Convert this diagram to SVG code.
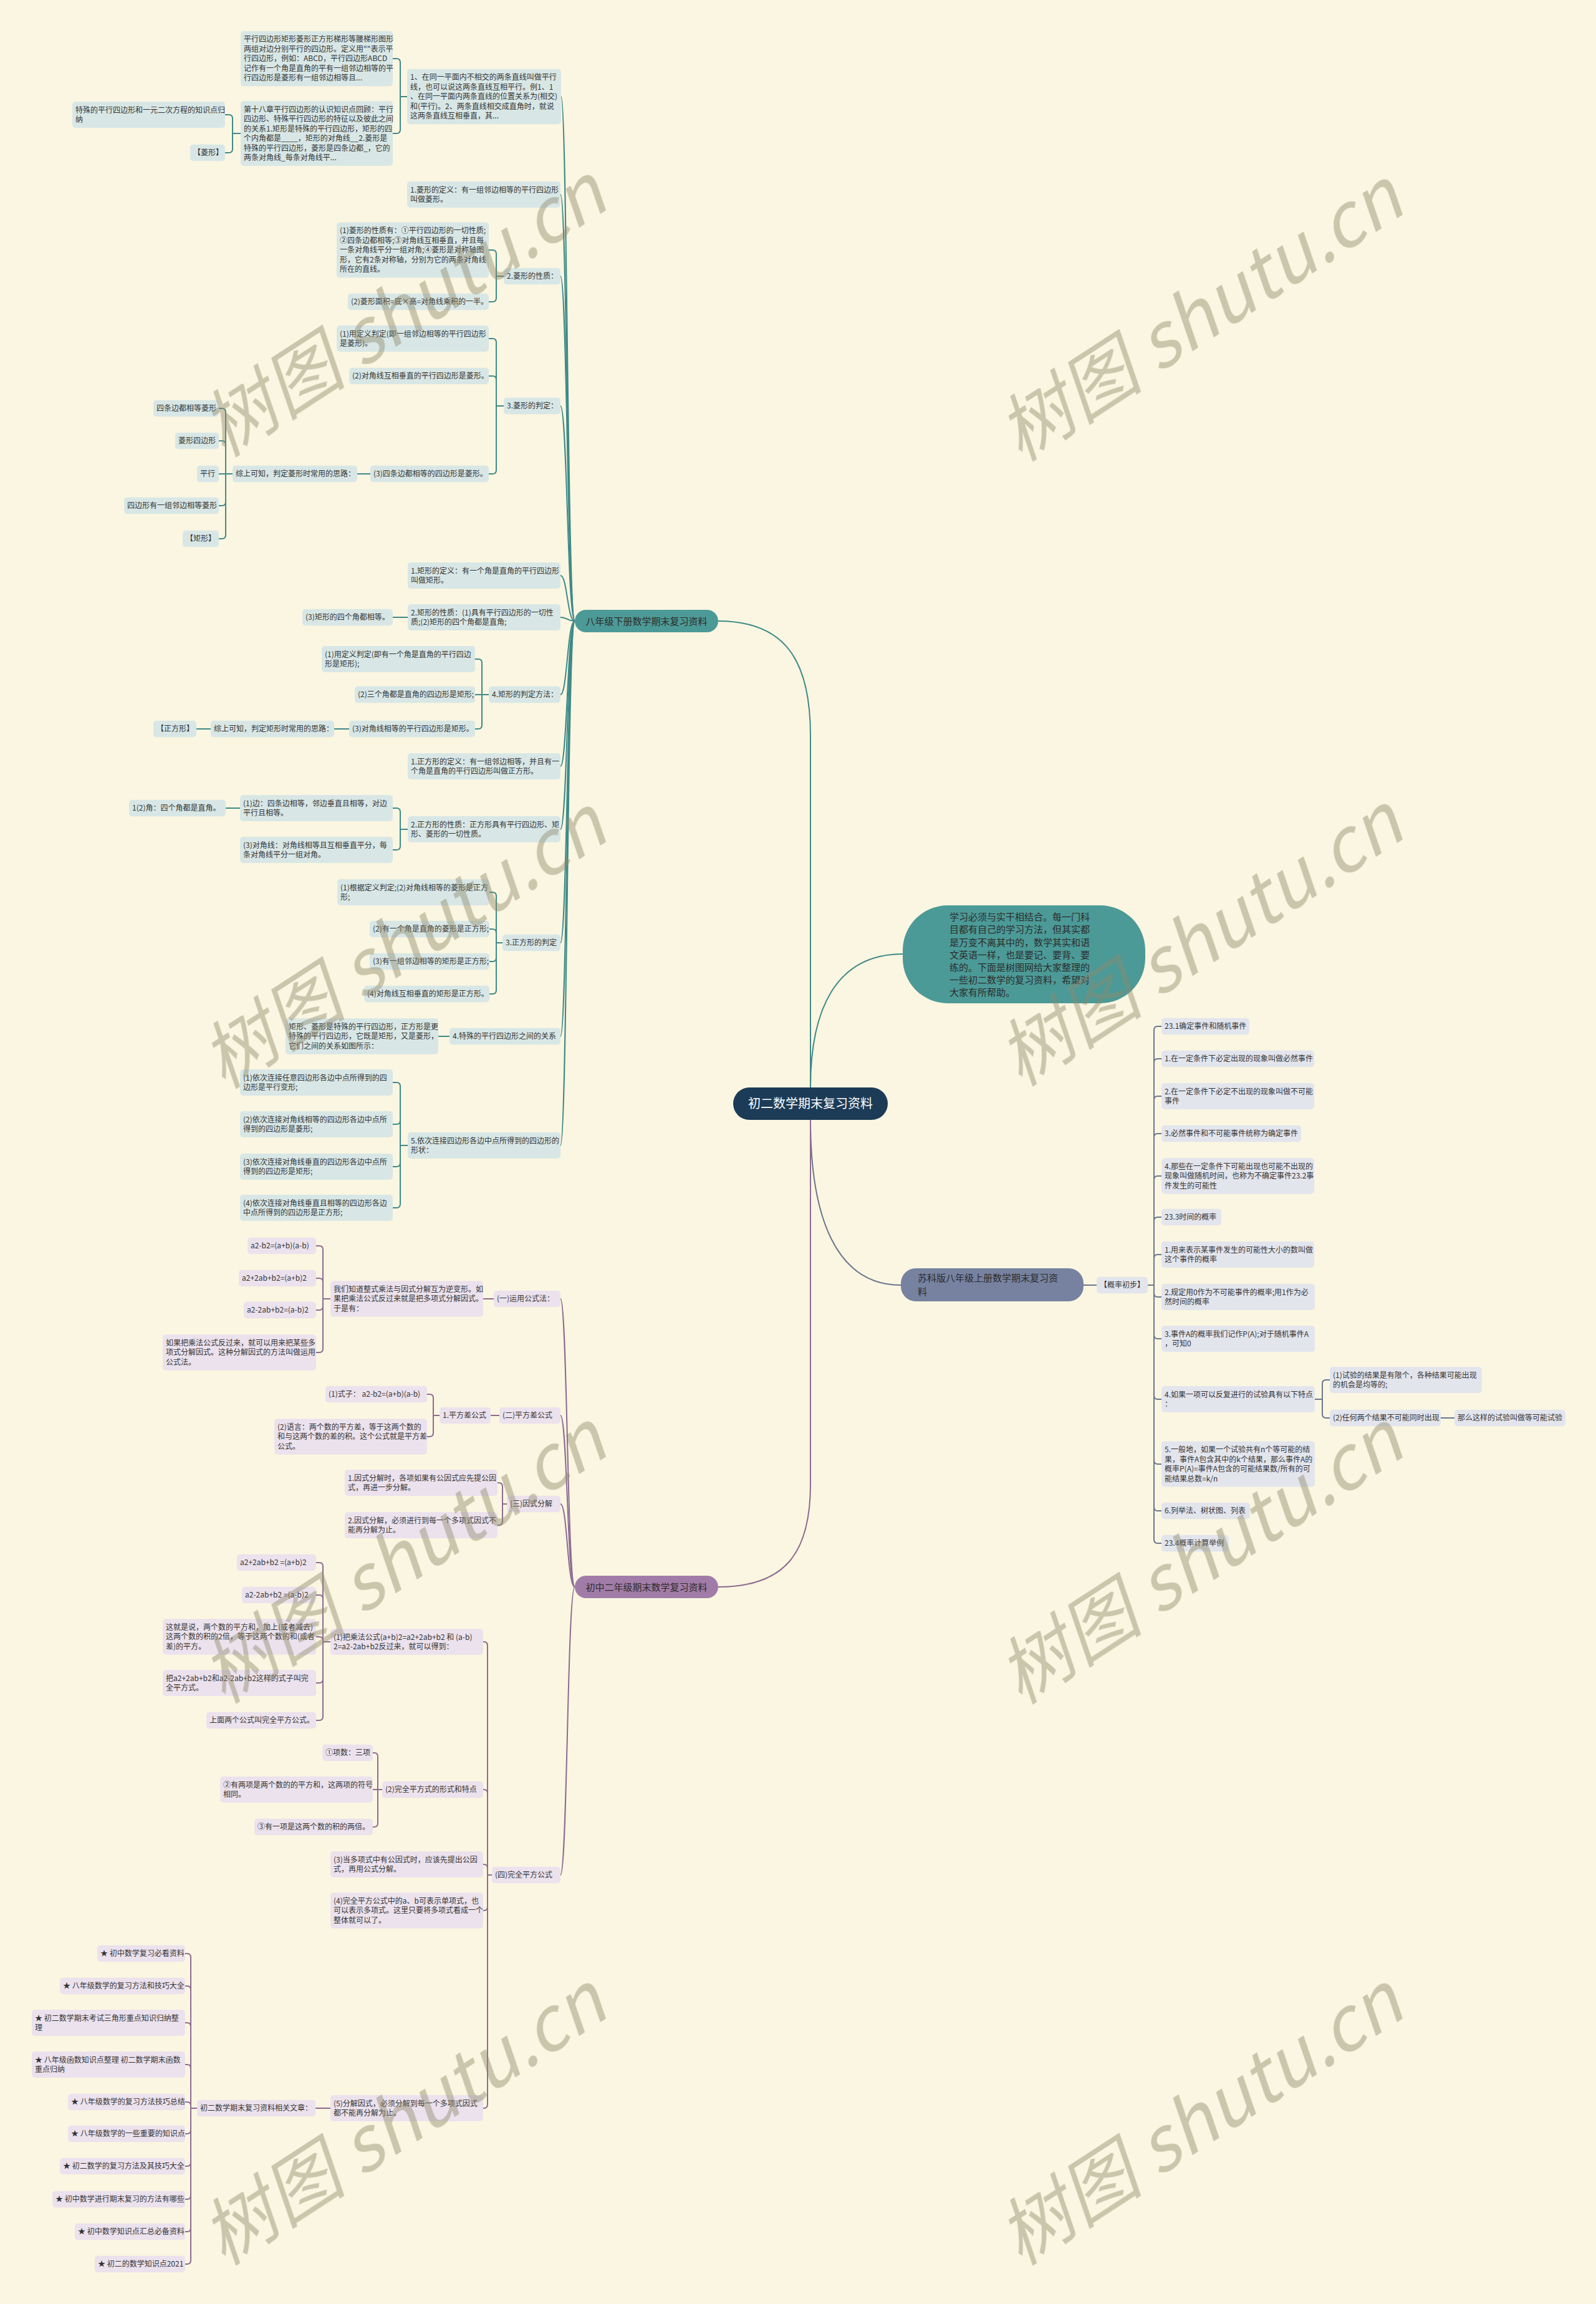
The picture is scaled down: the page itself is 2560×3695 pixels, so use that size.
<svg xmlns="http://www.w3.org/2000/svg" width="2560" height="3695" viewBox="0 0 2560 3695">
<style>
text{font-family:"Noto Sans CJK SC","Liberation Sans",sans-serif;}
.t{font-size:12px;fill:#333;}
.lt{fill:#d8e7e6;}
.lp{fill:#ebe2ed;}
.ls{fill:#e3e5ed;}
.ct{fill:none;stroke:#3e8a88;stroke-width:2;}
.cp{fill:none;stroke:#8d6b91;stroke-width:2;}
.cs{fill:none;stroke:#6b7690;stroke-width:2;}
.wm{font-family:"Liberation Serif","Noto Sans CJK SC",serif;font-style:italic;font-size:118px;fill:#8f8a6d;opacity:0.45;}
</style>
<rect x="0" y="0" width="2560" height="3695" fill="#fbf6e1"/>

<g id="connectors">
<path class="ct" stroke-width="2.5" d="M1300 1744 L1300 1180 C1300 1060 1260 996 1152 996"/>
<path class="ct" stroke-width="2.5" d="M1300 1744 C1300 1620 1340 1530 1448 1530"/>
<path class="cs" stroke-width="2.5" d="M1300 1796 C1300 1950 1340 2061 1445 2061"/>
<path class="cp" stroke-width="2.5" d="M1300 1796 L1300 2380 C1300 2490 1260 2545 1152 2545"/>

<path class="ct" d="M922 996 C910 996 910 155 900 155"/>
<path class="ct" d="M922 996 C910 996 910 312 899 312"/>
<path class="ct" d="M922 996 C910 996 910 443 899 443"/>
<path class="ct" d="M922 996 C910 996 910 651 899 651"/>
<path class="ct" d="M922 996 C910 996 910 923 899 923"/>
<path class="ct" d="M922 996 C910 996 910 990 899 990"/>
<path class="ct" d="M922 996 C910 996 910 1114 899 1114"/>
<path class="ct" d="M922 996 C910 996 910 1229 899 1229"/>
<path class="ct" d="M922 996 C910 996 910 1330 899 1330"/>
<path class="ct" d="M922 996 C910 996 910 1512 899 1512"/>
<path class="ct" d="M922 996 C910 996 910 1662 899 1662"/>
<path class="ct" d="M922 996 C910 996 910 1837 899 1837"/>

<path class="ct" d="M653 155 H642 V100 Q642 94 636 94 H630"/>
<path class="ct" d="M653 155 H642 V208 Q642 214 636 214 H630"/>
<path class="ct" d="M386 214 H373 V190 Q373 184 367 184 H361"/>
<path class="ct" d="M386 214 H373 V239 Q373 245 367 245 H361"/>
<path class="ct" d="M808 443 H796 V407 Q796 401 790 401 H784"/>
<path class="ct" d="M808 443 H796 V478 Q796 484 790 484 H784"/>
<path class="ct" d="M808 651 H796 V549 Q796 543 790 543 H784"/>
<path class="ct" d="M808 651 H796 V609 Q796 603 790 603 H784"/>
<path class="ct" d="M808 651 H796 V754 Q796 760 790 760 H784"/>
<path class="ct" d="M594 760 H573"/>
<path class="ct" d="M373 760 H362 V661 Q362 655 356 655 H351"/>
<path class="ct" d="M373 760 H362 V713 Q362 707 356 707 H351"/>
<path class="ct" d="M373 760 H351"/>
<path class="ct" d="M373 760 H362 V805 Q362 811 356 811 H351"/>
<path class="ct" d="M373 760 H362 V858 Q362 864 356 864 H351"/>
<path class="ct" d="M654 990 H630"/>
<path class="ct" d="M784 1114 H773 V1063 Q773 1057 767 1057 H762"/>
<path class="ct" d="M784 1114 H762"/>
<path class="ct" d="M784 1114 H773 V1163 Q773 1169 767 1169 H762"/>
<path class="ct" d="M560 1169 H536"/>
<path class="ct" d="M338 1169 H315"/>
<path class="ct" d="M654 1330 H642 V1302 Q642 1296 636 1296 H630"/>
<path class="ct" d="M654 1330 H642 V1357 Q642 1363 636 1363 H630"/>
<path class="ct" d="M385 1296 H362"/>
<path class="ct" d="M806 1512 H796 V1437 Q796 1431 790 1431 H785"/>
<path class="ct" d="M806 1512 H796 V1496 Q796 1490 790 1490 H785"/>
<path class="ct" d="M806 1512 H796 V1536 Q796 1542 790 1542 H785"/>
<path class="ct" d="M806 1512 H796 V1588 Q796 1594 790 1594 H785"/>
<path class="ct" d="M721 1662 H703"/>
<path class="ct" d="M654 1837 H642 V1742 Q642 1736 636 1736 H630"/>
<path class="ct" d="M654 1837 H642 V1797 Q642 1803 636 1803 H630"/>
<path class="ct" d="M654 1837 H642 V1865 Q642 1871 636 1871 H630"/>
<path class="ct" d="M654 1837 H642 V1931 Q642 1937 636 1937 H630"/>

<path class="cp" d="M922 2545 C910 2545 910 2083 899 2083"/>
<path class="cp" d="M922 2545 C910 2545 910 2270 899 2270"/>
<path class="cp" d="M922 2545 C910 2545 910 2412 899 2412"/>
<path class="cp" d="M922 2545 C910 2545 910 3007 899 3007"/>
<path class="cp" d="M792 2083 H775"/>
<path class="cp" d="M530 2083 H518 V2004 Q518 1998 512 1998 H507"/>
<path class="cp" d="M530 2083 H518 V2056 Q518 2050 512 2050 H507"/>
<path class="cp" d="M530 2083 H518 V2095 Q518 2101 512 2101 H507"/>
<path class="cp" d="M530 2083 H518 V2163 Q518 2169 512 2169 H507"/>
<path class="cp" d="M801 2270 H787"/>
<path class="cp" d="M705 2270 H695 V2242 Q695 2236 689 2236 H685"/>
<path class="cp" d="M705 2270 H695 V2298 Q695 2304 689 2304 H685"/>
<path class="cp" d="M813 2412 H806 V2384 Q806 2378 800 2378 H798"/>
<path class="cp" d="M813 2412 H806 V2440 Q806 2446 800 2446 H798"/>
<path class="cp" d="M789 3007 H782 V2639 Q782 2633 776 2633 H775"/>
<path class="cp" d="M789 3007 H782 V2876 Q782 2870 776 2870 H775"/>
<path class="cp" d="M789 3007 H782 V2996 Q782 2990 776 2990 H775"/>
<path class="cp" d="M789 3007 H782 V3058 Q782 3064 776 3064 H775"/>
<path class="cp" d="M789 3007 H782 V3375 Q782 3381 776 3381 H775"/>
<path class="cp" d="M530 2633 H518 V2512 Q518 2506 512 2506 H507"/>
<path class="cp" d="M530 2633 H518 V2564 Q518 2558 512 2558 H507"/>
<path class="cp" d="M530 2633 H518 V2631 Q518 2625 512 2625 H507"/>
<path class="cp" d="M530 2633 H518 V2693 Q518 2699 512 2699 H507"/>
<path class="cp" d="M530 2633 H518 V2753 Q518 2759 512 2759 H507"/>
<path class="cp" d="M613 2870 H606 V2817 Q606 2811 600 2811 H598"/>
<path class="cp" d="M613 2870 H598"/>
<path class="cp" d="M613 2870 H606 V2924 Q606 2930 600 2930 H598"/>
<path class="cp" d="M530 3381 H506"/>
<path class="cp" d="M316 3381 H306 V3139 Q306 3133 300 3133 H297"/>
<path class="cp" d="M316 3381 H306 V3191 Q306 3185 300 3185 H297"/>
<path class="cp" d="M316 3381 H306 V3250 Q306 3244 300 3244 H297"/>
<path class="cp" d="M316 3381 H306 V3317 Q306 3311 300 3311 H297"/>
<path class="cp" d="M316 3381 H306 V3377 Q306 3371 300 3371 H297"/>
<path class="cp" d="M316 3381 H306 V3416 Q306 3422 300 3422 H297"/>
<path class="cp" d="M316 3381 H306 V3468 Q306 3474 300 3474 H297"/>
<path class="cp" d="M316 3381 H306 V3521 Q306 3527 300 3527 H297"/>
<path class="cp" d="M316 3381 H306 V3573 Q306 3579 300 3579 H297"/>
<path class="cp" d="M316 3381 H306 V3625 Q306 3631 300 3631 H297"/>

<path class="cs" d="M1738 2061 H1759"/>
<path class="cs" d="M1840 2061 H1851 V1652 Q1851 1646 1857 1646 H1863"/>
<path class="cs" d="M1840 2061 H1851 V1704 Q1851 1698 1857 1698 H1863"/>
<path class="cs" d="M1840 2061 H1851 V1764 Q1851 1758 1857 1758 H1863"/>
<path class="cs" d="M1840 2061 H1851 V1824 Q1851 1818 1857 1818 H1863"/>
<path class="cs" d="M1840 2061 H1851 V1892 Q1851 1886 1857 1886 H1863"/>
<path class="cs" d="M1840 2061 H1851 V1958 Q1851 1952 1857 1952 H1863"/>
<path class="cs" d="M1840 2061 H1851 V2018 Q1851 2012 1857 2012 H1863"/>
<path class="cs" d="M1840 2061 H1851 V2074 Q1851 2080 1857 2080 H1863"/>
<path class="cs" d="M1840 2061 H1851 V2141 Q1851 2147 1857 2147 H1863"/>
<path class="cs" d="M1840 2061 H1851 V2238 Q1851 2244 1857 2244 H1863"/>
<path class="cs" d="M1840 2061 H1851 V2342 Q1851 2348 1857 2348 H1863"/>
<path class="cs" d="M1840 2061 H1851 V2417 Q1851 2423 1857 2423 H1863"/>
<path class="cs" d="M1840 2061 H1851 V2469 Q1851 2475 1857 2475 H1863"/>
<path class="cs" d="M2109 2244 H2121 V2219 Q2121 2213 2127 2213 H2133"/>
<path class="cs" d="M2109 2244 H2121 V2268 Q2121 2274 2127 2274 H2133"/>
<path class="cs" d="M2311 2274 H2333"/>
</g>

<g id="root"><rect x="1176" y="1744" width="248" height="52" rx="26" fill="#1c3b57"/><text x="1300" y="1777" font-size="20" fill="#ffffff" text-anchor="middle">初二数学期末复习资料</text></g>

<g id="intro"><rect x="1448" y="1452" width="389" height="157" rx="72" fill="#4c9a97"/><text font-size="15" fill="#2b2b2b"><tspan x="1523" y="1476">学习必须与实干相结合。每一门科</tspan><tspan x="1523" y="1496.3">目都有自己的学习方法，但其实都</tspan><tspan x="1523" y="1516.5">是万变不离其中的，数学其实和语</tspan><tspan x="1523" y="1536.7">文英语一样，也是要记、要背、要</tspan><tspan x="1523" y="1557">练的。下面是树图网给大家整理的</tspan><tspan x="1523" y="1577.2">一些初二数学的复习资料，希望对</tspan><tspan x="1523" y="1597.4">大家有所帮助。</tspan></text></g>

<g id="b1"><rect x="922" y="978" width="230" height="36" rx="18" fill="#4c9a97"/><text x="1037" y="1001.5" font-size="15" fill="#2b2b2b" text-anchor="middle">八年级下册数学期末复习资料</text></g>
<g id="b2"><rect x="922" y="2527" width="230" height="36" rx="18" fill="#a27ca8"/><text x="1037" y="2550.5" font-size="15" fill="#2b2b2b" text-anchor="middle">初中二年级期末数学复习资料</text></g>
<g id="b3"><rect x="1445" y="2034" width="293" height="53" rx="24" fill="#7682a0"/><text font-size="15" fill="#2b2b2b"><tspan x="1472" y="2055">苏科版八年级上册数学期末复习资</tspan><tspan x="1472" y="2077">料</tspan></text></g>

<g id="T1"><rect class="lt" x="653" y="110.75" width="247" height="88.5" rx="5"/><text class="t"><tspan x="658" y="128.25">1、在同一平面内不相交的两条直线叫做平行</tspan><tspan x="658" y="143.75">线，也可以说这两条直线互相平行。例1、1</tspan><tspan x="658" y="159.25">、在同一平面内两条直线的位置关系为(相交)</tspan><tspan x="658" y="174.75">和(平行)。2、两条直线相交成直角时，就说</tspan><tspan x="658" y="190.25">这两条直线互相垂直，其...</tspan></text></g>
<g id="T1a"><rect class="lt" x="386" y="49.75" width="244" height="88.5" rx="5"/><text class="t"><tspan x="391" y="67.25">平行四边形矩形菱形正方形梯形等腰梯形图形</tspan><tspan x="391" y="82.75">两组对边分别平行的四边形。定义用""表示平</tspan><tspan x="391" y="98.25">行四边形，例如：ABCD，平行四边形ABCD</tspan><tspan x="391" y="113.75">记作有一个角是直角的平有一组邻边相等的平</tspan><tspan x="391" y="129.25">行四边形是菱形有一组邻边相等且...</tspan></text></g>
<g id="T1b"><rect class="lt" x="386" y="162" width="244" height="104" rx="5"/><text class="t"><tspan x="391" y="179.5">第十八章平行四边形的认识知识点回顾：平行</tspan><tspan x="391" y="195">四边形、特殊平行四边形的特征以及彼此之间</tspan><tspan x="391" y="210.5">的关系1.矩形是特殊的平行四边形，矩形的四</tspan><tspan x="391" y="226">个内角都是____，矩形的对角线__2.菱形是</tspan><tspan x="391" y="241.5">特殊的平行四边形，菱形是四条边都_，它的</tspan><tspan x="391" y="257">两条对角线_每条对角线平...</tspan></text></g>
<g id="T1b1"><rect class="lt" x="116" y="163" width="245" height="42" rx="5"/><text class="t"><tspan x="121" y="180.5">特殊的平行四边形和一元二次方程的知识点归</tspan><tspan x="121" y="196">纳</tspan></text></g>
<g id="T1b2"><rect class="lt" x="305" y="231.75" width="56" height="26.5" rx="5"/><text class="t" x="310" y="249.25">【菱形】</text></g>
<g id="T2"><rect class="lt" x="653" y="291" width="246" height="42" rx="5"/><text class="t"><tspan x="658" y="308.5">1.菱形的定义：有一组邻边相等的平行四边形</tspan><tspan x="658" y="324">叫做菱形。</tspan></text></g>
<g id="T3"><rect class="lt" x="808" y="429.75" width="91" height="26.5" rx="5"/><text class="t" x="813" y="447.25">2.菱形的性质：</text></g>
<g id="T3a"><rect class="lt" x="540" y="356.75" width="244" height="88.5" rx="5"/><text class="t"><tspan x="545" y="374.25">(1)菱形的性质有：①平行四边形的一切性质;</tspan><tspan x="545" y="389.75">②四条边都相等;③对角线互相垂直，并且每</tspan><tspan x="545" y="405.25">一条对角线平分一组对角;④菱形是对称轴图</tspan><tspan x="545" y="420.75">形，它有2条对称轴，分别为它的两条对角线</tspan><tspan x="545" y="436.25">所在的直线。</tspan></text></g>
<g id="T3b"><rect class="lt" x="558" y="470.75" width="226" height="26.5" rx="5"/><text class="t" x="563" y="488.25">(2)菱形面积=底×高=对角线乘积的一半。</text></g>
<g id="T4"><rect class="lt" x="808" y="637.75" width="91" height="26.5" rx="5"/><text class="t" x="813" y="655.25">3.菱形的判定：</text></g>
<g id="T4a"><rect class="lt" x="540" y="522" width="244" height="42" rx="5"/><text class="t"><tspan x="545" y="539.5">(1)用定义判定(即一组邻边相等的平行四边形</tspan><tspan x="545" y="555">是菱形)。</tspan></text></g>
<g id="T4b"><rect class="lt" x="560" y="589.75" width="224" height="26.5" rx="5"/><text class="t" x="565" y="607.25">(2)对角线互相垂直的平行四边形是菱形。</text></g>
<g id="T4c"><rect class="lt" x="594" y="746.75" width="190" height="26.5" rx="5"/><text class="t" x="599" y="764.25">(3)四条边都相等的四边形是菱形。</text></g>
<g id="T4c1"><rect class="lt" x="373" y="746.75" width="200" height="26.5" rx="5"/><text class="t" x="378" y="764.25">综上可知，判定菱形时常用的思路：</text></g>
<g id="T4c1a"><rect class="lt" x="246" y="641.75" width="105" height="26.5" rx="5"/><text class="t" x="251" y="659.25">四条边都相等菱形</text></g>
<g id="T4c1b"><rect class="lt" x="281" y="693.75" width="70" height="26.5" rx="5"/><text class="t" x="286" y="711.25">菱形四边形</text></g>
<g id="T4c1c"><rect class="lt" x="316" y="746.75" width="35" height="26.5" rx="5"/><text class="t" x="321" y="764.25">平行</text></g>
<g id="T4c1d"><rect class="lt" x="199" y="797.75" width="152" height="26.5" rx="5"/><text class="t" x="204" y="815.25">四边形有一组邻边相等菱形</text></g>
<g id="T4c1e"><rect class="lt" x="293" y="850.75" width="58" height="26.5" rx="5"/><text class="t" x="298" y="868.25">【矩形】</text></g>
<g id="T5"><rect class="lt" x="654" y="902" width="245" height="42" rx="5"/><text class="t"><tspan x="659" y="919.5">1.矩形的定义：有一个角是直角的平行四边形</tspan><tspan x="659" y="935">叫做矩形。</tspan></text></g>
<g id="T6"><rect class="lt" x="654" y="969" width="245" height="42" rx="5"/><text class="t"><tspan x="659" y="986.5">2.矩形的性质：(1)具有平行四边形的一切性</tspan><tspan x="659" y="1002">质;(2)矩形的四个角都是直角;</tspan></text></g>
<g id="T6a"><rect class="lt" x="485" y="976.75" width="145" height="26.5" rx="5"/><text class="t" x="490" y="994.25">(3)矩形的四个角都相等。</text></g>
<g id="T7"><rect class="lt" x="784" y="1100.75" width="115" height="26.5" rx="5"/><text class="t" x="789" y="1118.25">4.矩形的判定方法：</text></g>
<g id="T7a"><rect class="lt" x="516" y="1036" width="246" height="42" rx="5"/><text class="t"><tspan x="521" y="1053.5">(1)用定义判定(即有一个角是直角的平行四边</tspan><tspan x="521" y="1069">形是矩形);</tspan></text></g>
<g id="T7b"><rect class="lt" x="569" y="1100.75" width="193" height="26.5" rx="5"/><text class="t" x="574" y="1118.25">(2)三个角都是直角的四边形是矩形;</text></g>
<g id="T7c"><rect class="lt" x="560" y="1155.75" width="202" height="26.5" rx="5"/><text class="t" x="565" y="1173.25">(3)对角线相等的平行四边形是矩形。</text></g>
<g id="T7c1"><rect class="lt" x="338" y="1155.75" width="198" height="26.5" rx="5"/><text class="t" x="343" y="1173.25">综上可知，判定矩形时常用的思路：</text></g>
<g id="T7c1a"><rect class="lt" x="246" y="1155.75" width="69" height="26.5" rx="5"/><text class="t" x="251" y="1173.25">【正方形】</text></g>
<g id="T8"><rect class="lt" x="654" y="1208" width="245" height="42" rx="5"/><text class="t"><tspan x="659" y="1225.5">1.正方形的定义：有一组邻边相等，并且有一</tspan><tspan x="659" y="1241">个角是直角的平行四边形叫做正方形。</tspan></text></g>
<g id="T9"><rect class="lt" x="654" y="1309" width="245" height="42" rx="5"/><text class="t"><tspan x="659" y="1326.5">2.正方形的性质：正方形具有平行四边形、矩</tspan><tspan x="659" y="1342">形、菱形的一切性质。</tspan></text></g>
<g id="T9a"><rect class="lt" x="385" y="1275" width="245" height="42" rx="5"/><text class="t"><tspan x="390" y="1292.5">(1)边：四条边相等，邻边垂直且相等，对边</tspan><tspan x="390" y="1308">平行且相等。</tspan></text></g>
<g id="T9a1"><rect class="lt" x="207" y="1282.75" width="155" height="26.5" rx="5"/><text class="t" x="212" y="1300.25">1(2)角：四个角都是直角。</text></g>
<g id="T9b"><rect class="lt" x="385" y="1342" width="245" height="42" rx="5"/><text class="t"><tspan x="390" y="1359.5">(3)对角线：对角线相等且互相垂直平分，每</tspan><tspan x="390" y="1375">条对角线平分一组对角。</tspan></text></g>
<g id="T10"><rect class="lt" x="806" y="1498.75" width="93" height="26.5" rx="5"/><text class="t" x="811" y="1516.25">3.正方形的判定</text></g>
<g id="T10a"><rect class="lt" x="541" y="1410" width="244" height="42" rx="5"/><text class="t"><tspan x="546" y="1427.5">(1)根据定义判定;(2)对角线相等的菱形是正方</tspan><tspan x="546" y="1443">形;</tspan></text></g>
<g id="T10b"><rect class="lt" x="593" y="1476.75" width="192" height="26.5" rx="5"/><text class="t" x="598" y="1494.25">(2)有一个角是直角的菱形是正方形;</text></g>
<g id="T10c"><rect class="lt" x="593" y="1528.75" width="192" height="26.5" rx="5"/><text class="t" x="598" y="1546.25">(3)有一组邻边相等的矩形是正方形;</text></g>
<g id="T10d"><rect class="lt" x="584" y="1580.75" width="201" height="26.5" rx="5"/><text class="t" x="589" y="1598.25">(4)对角线互相垂直的矩形是正方形。</text></g>
<g id="T11"><rect class="lt" x="721" y="1648.75" width="178" height="26.5" rx="5"/><text class="t" x="726" y="1666.25">4.特殊的平行四边形之间的关系</text></g>
<g id="T11a"><rect class="lt" x="458" y="1633.25" width="245" height="57.5" rx="5"/><text class="t"><tspan x="463" y="1650.75">矩形、菱形是特殊的平行四边形，正方形是更</tspan><tspan x="463" y="1666.25">特殊的平行四边形，它既是矩形，又是菱形，</tspan><tspan x="463" y="1681.75">它们之间的关系如图所示：</tspan></text></g>
<g id="T12"><rect class="lt" x="654" y="1816" width="245" height="42" rx="5"/><text class="t"><tspan x="659" y="1833.5">5.依次连接四边形各边中点所得到的四边形的</tspan><tspan x="659" y="1849">形状：</tspan></text></g>
<g id="T12a"><rect class="lt" x="385" y="1715" width="245" height="42" rx="5"/><text class="t"><tspan x="390" y="1732.5">(1)依次连接任意四边形各边中点所得到的四</tspan><tspan x="390" y="1748">边形是平行变形;</tspan></text></g>
<g id="T12b"><rect class="lt" x="385" y="1782" width="245" height="42" rx="5"/><text class="t"><tspan x="390" y="1799.5">(2)依次连接对角线相等的四边形各边中点所</tspan><tspan x="390" y="1815">得到的四边形是菱形;</tspan></text></g>
<g id="T12c"><rect class="lt" x="385" y="1850" width="245" height="42" rx="5"/><text class="t"><tspan x="390" y="1867.5">(3)依次连接对角线垂直的四边形各边中点所</tspan><tspan x="390" y="1883">得到的四边形是矩形;</tspan></text></g>
<g id="T12d"><rect class="lt" x="385" y="1916" width="245" height="42" rx="5"/><text class="t"><tspan x="390" y="1933.5">(4)依次连接对角线垂直且相等的四边形各边</tspan><tspan x="390" y="1949">中点所得到的四边形是正方形;</tspan></text></g>

<g id="P1"><rect class="lp" x="792" y="2069.75" width="107" height="26.5" rx="5"/><text class="t" x="797" y="2087.25">(一)运用公式法：</text></g>
<g id="P1a"><rect class="lp" x="530" y="2054.25" width="245" height="57.5" rx="5"/><text class="t"><tspan x="535" y="2071.75">我们知道整式乘法与因式分解互为逆变形。如</tspan><tspan x="535" y="2087.25">果把乘法公式反过来就是把多项式分解因式。</tspan><tspan x="535" y="2102.75">于是有：</tspan></text></g>
<g id="P1a1"><rect class="lp" x="397" y="1984.75" width="110" height="26.5" rx="5"/><text class="t" x="402" y="2002.25">a2-b2=(a+b)(a-b)</text></g>
<g id="P1a2"><rect class="lp" x="383" y="2036.75" width="124" height="26.5" rx="5"/><text class="t" x="388" y="2054.25">a2+2ab+b2=(a+b)2</text></g>
<g id="P1a3"><rect class="lp" x="391" y="2087.75" width="116" height="26.5" rx="5"/><text class="t" x="396" y="2105.25">a2-2ab+b2=(a-b)2</text></g>
<g id="P1a4"><rect class="lp" x="261" y="2140.25" width="246" height="57.5" rx="5"/><text class="t"><tspan x="266" y="2157.75">如果把乘法公式反过来，就可以用来把某些多</tspan><tspan x="266" y="2173.25">项式分解因式。这种分解因式的方法叫做运用</tspan><tspan x="266" y="2188.75">公式法。</tspan></text></g>
<g id="P2"><rect class="lp" x="801" y="2256.75" width="98" height="26.5" rx="5"/><text class="t" x="806" y="2274.25">(二)平方差公式</text></g>
<g id="P2a"><rect class="lp" x="705" y="2256.75" width="82" height="26.5" rx="5"/><text class="t" x="710" y="2274.25">1.平方差公式</text></g>
<g id="P2a1"><rect class="lp" x="522" y="2222.75" width="163" height="26.5" rx="5"/><text class="t" x="527" y="2240.25">(1)式子： a2-b2=(a+b)(a-b)</text></g>
<g id="P2a2"><rect class="lp" x="440" y="2275.25" width="245" height="57.5" rx="5"/><text class="t"><tspan x="445" y="2292.75">(2)语言：两个数的平方差，等于这两个数的</tspan><tspan x="445" y="2308.25">和与这两个数的差的积。这个公式就是平方差</tspan><tspan x="445" y="2323.75">公式。</tspan></text></g>
<g id="P3"><rect class="lp" x="813" y="2398.75" width="86" height="26.5" rx="5"/><text class="t" x="818" y="2416.25">(三)因式分解</text></g>
<g id="P3a"><rect class="lp" x="553" y="2357" width="245" height="42" rx="5"/><text class="t"><tspan x="558" y="2374.5">1.因式分解时，各项如果有公因式应先提公因</tspan><tspan x="558" y="2390">式，再进一步分解。</tspan></text></g>
<g id="P3b"><rect class="lp" x="553" y="2425" width="245" height="42" rx="5"/><text class="t"><tspan x="558" y="2442.5">2.因式分解，必须进行到每一个多项式因式不</tspan><tspan x="558" y="2458">能再分解为止。</tspan></text></g>
<g id="P4"><rect class="lp" x="789" y="2993.75" width="110" height="26.5" rx="5"/><text class="t" x="794" y="3011.25">(四)完全平方公式</text></g>
<g id="P4a"><rect class="lp" x="530" y="2612" width="245" height="42" rx="5"/><text class="t"><tspan x="535" y="2629.5">(1)把乘法公式(a+b)2=a2+2ab+b2 和 (a-b)</tspan><tspan x="535" y="2645">2=a2-2ab+b2反过来，就可以得到：</tspan></text></g>
<g id="P4a1"><rect class="lp" x="380" y="2492.75" width="127" height="26.5" rx="5"/><text class="t" x="385" y="2510.25">a2+2ab+b2 =(a+b)2</text></g>
<g id="P4a2"><rect class="lp" x="388" y="2544.75" width="119" height="26.5" rx="5"/><text class="t" x="393" y="2562.25">a2-2ab+b2 =(a-b)2</text></g>
<g id="P4a3"><rect class="lp" x="261" y="2596.25" width="246" height="57.5" rx="5"/><text class="t"><tspan x="266" y="2613.75">这就是说，两个数的平方和，加上(或者减去)</tspan><tspan x="266" y="2629.25">这两个数的积的2倍，等于这两个数的和(或者</tspan><tspan x="266" y="2644.75">差)的平方。</tspan></text></g>
<g id="P4a4"><rect class="lp" x="261" y="2678" width="246" height="42" rx="5"/><text class="t"><tspan x="266" y="2695.5">把a2+2ab+b2和a2-2ab+b2这样的式子叫完</tspan><tspan x="266" y="2711">全平方式。</tspan></text></g>
<g id="P4a5"><rect class="lp" x="331" y="2745.75" width="176" height="26.5" rx="5"/><text class="t" x="336" y="2763.25">上面两个公式叫完全平方公式。</text></g>
<g id="P4b"><rect class="lp" x="613" y="2856.75" width="162" height="26.5" rx="5"/><text class="t" x="618" y="2874.25">(2)完全平方式的形式和特点</text></g>
<g id="P4b1"><rect class="lp" x="517" y="2797.75" width="81" height="26.5" rx="5"/><text class="t" x="522" y="2815.25">①项数：三项</text></g>
<g id="P4b2"><rect class="lp" x="353" y="2849" width="245" height="42" rx="5"/><text class="t"><tspan x="358" y="2866.5">②有两项是两个数的的平方和，这两项的符号</tspan><tspan x="358" y="2882">相同。</tspan></text></g>
<g id="P4b3"><rect class="lp" x="408" y="2916.75" width="190" height="26.5" rx="5"/><text class="t" x="413" y="2934.25">③有一项是这两个数的积的两倍。</text></g>
<g id="P4c"><rect class="lp" x="530" y="2969" width="245" height="42" rx="5"/><text class="t"><tspan x="535" y="2986.5">(3)当多项式中有公因式时，应该先提出公因</tspan><tspan x="535" y="3002">式，再用公式分解。</tspan></text></g>
<g id="P4d"><rect class="lp" x="530" y="3035.25" width="245" height="57.5" rx="5"/><text class="t"><tspan x="535" y="3052.75">(4)完全平方公式中的a、b可表示单项式，也</tspan><tspan x="535" y="3068.25">可以表示多项式。这里只要将多项式看成一个</tspan><tspan x="535" y="3083.75">整体就可以了。</tspan></text></g>
<g id="P4e"><rect class="lp" x="530" y="3360" width="245" height="42" rx="5"/><text class="t"><tspan x="535" y="3377.5">(5)分解因式，必须分解到每一个多项式因式</tspan><tspan x="535" y="3393">都不能再分解为止。</tspan></text></g>
<g id="P4e1"><rect class="lp" x="316" y="3367.75" width="190" height="26.5" rx="5"/><text class="t" x="321" y="3385.25">初二数学期末复习资料相关文章：</text></g>
<g id="L1"><rect class="lp" x="156" y="3119.75" width="141" height="26.5" rx="5"/><text class="t" x="161" y="3137.25">★ 初中数学复习必看资料</text></g>
<g id="L2"><rect class="lp" x="96" y="3171.75" width="201" height="26.5" rx="5"/><text class="t" x="101" y="3189.25">★ 八年级数学的复习方法和技巧大全</text></g>
<g id="L3"><rect class="lp" x="51" y="3223" width="246" height="42" rx="5"/><text class="t"><tspan x="56" y="3240.5">★ 初二数学期末考试三角形重点知识归纳整</tspan><tspan x="56" y="3256">理</tspan></text></g>
<g id="L4"><rect class="lp" x="51" y="3290" width="246" height="42" rx="5"/><text class="t"><tspan x="56" y="3307.5">★ 八年级函数知识点整理 初二数学期末函数</tspan><tspan x="56" y="3323">重点归纳</tspan></text></g>
<g id="L5"><rect class="lp" x="109" y="3357.75" width="188" height="26.5" rx="5"/><text class="t" x="114" y="3375.25">★ 八年级数学的复习方法技巧总结</text></g>
<g id="L6"><rect class="lp" x="109" y="3408.75" width="188" height="26.5" rx="5"/><text class="t" x="114" y="3426.25">★ 八年级数学的一些重要的知识点</text></g>
<g id="L7"><rect class="lp" x="96" y="3460.75" width="201" height="26.5" rx="5"/><text class="t" x="101" y="3478.25">★ 初二数学的复习方法及其技巧大全</text></g>
<g id="L8"><rect class="lp" x="84" y="3513.75" width="213" height="26.5" rx="5"/><text class="t" x="89" y="3531.25">★ 初中数学进行期末复习的方法有哪些</text></g>
<g id="L9"><rect class="lp" x="120" y="3565.75" width="177" height="26.5" rx="5"/><text class="t" x="125" y="3583.25">★ 初中数学知识点汇总必备资料</text></g>
<g id="L10"><rect class="lp" x="152" y="3617.75" width="145" height="26.5" rx="5"/><text class="t" x="157" y="3635.25">★ 初二的数学知识点2021</text></g>

<g id="S1"><rect class="ls" x="1759" y="2047.75" width="82" height="26.5" rx="5"/><text class="t" x="1764" y="2065.25">【概率初步】</text></g>
<g id="s1"><rect class="ls" x="1863" y="1632.75" width="141" height="26.5" rx="5"/><text class="t" x="1868" y="1650.25">23.1确定事件和随机事件</text></g>
<g id="s2"><rect class="ls" x="1863" y="1684.75" width="245" height="26.5" rx="5"/><text class="t" x="1868" y="1702.25">1.在一定条件下必定出现的现象叫做必然事件</text></g>
<g id="s3"><rect class="ls" x="1863" y="1737" width="245" height="42" rx="5"/><text class="t"><tspan x="1868" y="1754.5">2.在一定条件下必定不出现的现象叫做不可能</tspan><tspan x="1868" y="1770">事件</tspan></text></g>
<g id="s4"><rect class="ls" x="1863" y="1804.75" width="224" height="26.5" rx="5"/><text class="t" x="1868" y="1822.25">3.必然事件和不可能事件统称为确定事件</text></g>
<g id="s5"><rect class="ls" x="1863" y="1857.25" width="245" height="57.5" rx="5"/><text class="t"><tspan x="1868" y="1874.75">4.那些在一定条件下可能出现也可能不出现的</tspan><tspan x="1868" y="1890.25">现象叫做随机时间，也称为不确定事件23.2事</tspan><tspan x="1868" y="1905.75">件发生的可能性</tspan></text></g>
<g id="s6"><rect class="ls" x="1863" y="1938.75" width="96" height="26.5" rx="5"/><text class="t" x="1868" y="1956.25">23.3时间的概率</text></g>
<g id="s7"><rect class="ls" x="1863" y="1991" width="245" height="42" rx="5"/><text class="t"><tspan x="1868" y="2008.5">1.用来表示某事件发生的可能性大小的数叫做</tspan><tspan x="1868" y="2024">这个事件的概率</tspan></text></g>
<g id="s8"><rect class="ls" x="1863" y="2059" width="246" height="42" rx="5"/><text class="t"><tspan x="1868" y="2076.5">2.规定用0作为不可能事件的概率;用1作为必</tspan><tspan x="1868" y="2092">然时间的概率</tspan></text></g>
<g id="s9"><rect class="ls" x="1863" y="2126" width="246" height="42" rx="5"/><text class="t"><tspan x="1868" y="2143.5">3.事件A的概率我们记作P(A);对于随机事件A</tspan><tspan x="1868" y="2159">，可知0</tspan></text></g>
<g id="s10"><rect class="ls" x="1863" y="2223" width="246" height="42" rx="5"/><text class="t"><tspan x="1868" y="2240.5">4.如果一项可以反复进行的试验具有以下特点</tspan><tspan x="1868" y="2256">：</tspan></text></g>
<g id="s10a"><rect class="ls" x="2133" y="2192" width="244" height="42" rx="5"/><text class="t"><tspan x="2138" y="2209.5">(1)试验的结果是有限个，各种结果可能出现</tspan><tspan x="2138" y="2225">的机会是均等的;</tspan></text></g>
<g id="s10b"><rect class="ls" x="2133" y="2260.75" width="178" height="26.5" rx="5"/><text class="t" x="2138" y="2278.25">(2)任何两个结果不可能同时出现</text></g>
<g id="s10b1"><rect class="ls" x="2333" y="2260.75" width="178" height="26.5" rx="5"/><text class="t" x="2338" y="2278.25">那么这样的试验叫做等可能试验</text></g>
<g id="s11"><rect class="ls" x="1863" y="2311.5" width="246" height="73" rx="5"/><text class="t"><tspan x="1868" y="2329">5.一般地，如果一个试验共有n个等可能的结</tspan><tspan x="1868" y="2344.5">果，事件A包含其中的k个结果，那么事件A的</tspan><tspan x="1868" y="2360">概率P(A)=事件A包含的可能结果数/所有的可</tspan><tspan x="1868" y="2375.5">能结果总数=k/n</tspan></text></g>
<g id="s12"><rect class="ls" x="1863" y="2409.75" width="142" height="26.5" rx="5"/><text class="t" x="1868" y="2427.25">6.列举法、树状图、列表</text></g>
<g id="s13"><rect class="ls" x="1863" y="2461.75" width="108" height="26.5" rx="5"/><text class="t" x="1868" y="2479.25">23.4概率计算举例</text></g>

<g id="watermarks" class="wm" text-anchor="middle">
<text transform="translate(648,500) rotate(-33)" dy="40">树图 shutu.cn</text>
<text transform="translate(1926,507) rotate(-33)" dy="40">树图 shutu.cn</text>
<text transform="translate(648,1513) rotate(-33)" dy="40">树图 shutu.cn</text>
<text transform="translate(1926,1509) rotate(-33)" dy="40">树图 shutu.cn</text>
<text transform="translate(648,2499) rotate(-33)" dy="40">树图 shutu.cn</text>
<text transform="translate(1926,2500) rotate(-33)" dy="40">树图 shutu.cn</text>
<text transform="translate(648,3400) rotate(-33)" dy="40">树图 shutu.cn</text>
<text transform="translate(1926,3400) rotate(-33)" dy="40">树图 shutu.cn</text>
</g>
</svg>
